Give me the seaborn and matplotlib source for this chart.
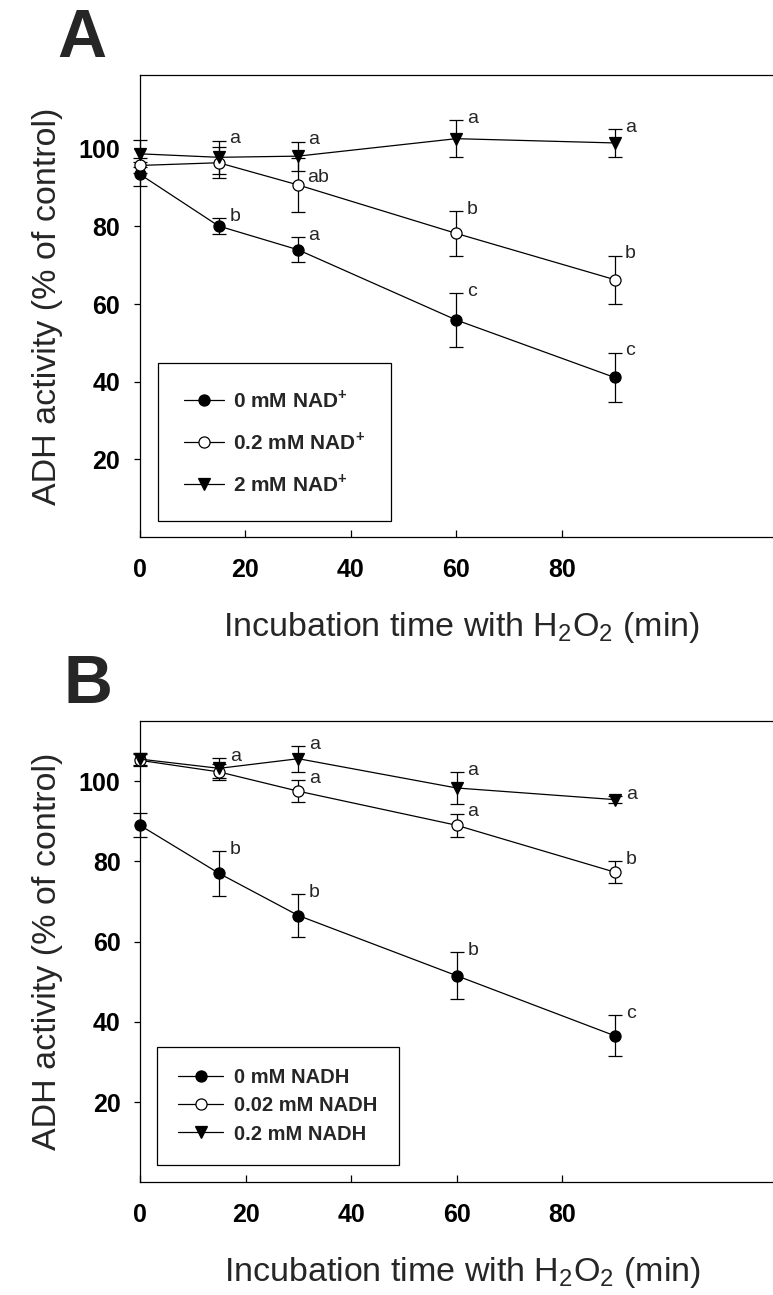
import matplotlib
matplotlib.use('Agg')
import matplotlib.pyplot as plt
import seaborn as sns
import pandas as pd

# incubation time with H2O2 (min)
time = [0, 15, 30, 60, 90]

# panel A: NAD+
a_labels = [r'0 mM NAD$^{\mathbf{+}}$', r'0.2 mM NAD$^{\mathbf{+}}$', r'2 mM NAD$^{\mathbf{+}}$']
a_nad0 = [93.5, 80.1, 74.0, 55.9, 41.1]
a_nad0_se = [3.0, 2.0, 3.2, 6.9, 6.4]
a_nad0_let = ['', 'b', 'a', 'c', 'c']
a_nad02 = [95.7, 96.4, 90.7, 78.2, 66.3]
a_nad02_se = [2.0, 4.0, 7.0, 5.8, 6.2]
a_nad02_let = ['', '', 'ab', 'b', 'b']
a_nad2 = [98.7, 97.8, 98.1, 102.6, 101.5]
a_nad2_se = [3.5, 4.3, 3.7, 4.7, 3.6]
a_nad2_let = ['', 'a', 'a', 'a', 'a']

# panel B: NADH
b_labels = ['0 mM NADH', '0.02 mM NADH', '0.2 mM NADH']
b_nadh0 = [89.0, 77.0, 66.5, 51.5, 36.5]
b_nadh0_se = [3.0, 5.6, 5.3, 5.8, 5.1]
b_nadh0_let = ['', 'b', 'b', 'b', 'c']
b_nadh002 = [105.2, 102.3, 97.5, 89.0, 77.3]
b_nadh002_se = [1.5, 2.0, 2.7, 2.9, 2.7]
b_nadh002_let = ['', '', 'a', 'a', 'b']
b_nadh02 = [105.5, 103.2, 105.6, 98.3, 95.4]
b_nadh02_se = [1.5, 2.5, 3.2, 3.9, 0.8]
b_nadh02_let = ['', 'a', 'a', 'a', 'a']

sns.set_theme(style='ticks')
plt.rcParams['font.family'] = ['Liberation Sans', 'DejaVu Sans']
plt.rcParams['mathtext.fontset'] = 'custom'
plt.rcParams['mathtext.rm'] = 'Liberation Sans'
plt.rcParams['mathtext.bf'] = 'Liberation Sans:bold'

filled = dict(marker='o', markersize=8, markerfacecolor='black', markeredgecolor='black', markeredgewidth=0.9)
hollow = dict(marker='o', markersize=8, markerfacecolor='white', markeredgecolor='black', markeredgewidth=0.9)
tri = dict(marker='v', markersize=9, markerfacecolor='black', markeredgecolor='black', markeredgewidth=0.9)


def draw_panel(ax, series, ymax, leg_anchor, leg_kw, nudge=None):
    nudge = nudge or {}
    for k, (lab, vals, err, lets, st) in enumerate(series):
        df = pd.DataFrame({'time': time, 'activity': vals})
        sns.lineplot(data=df, x='time', y='activity', ax=ax, color='black',
                     linewidth=0.9, label=lab, zorder=3, clip_on=False, **st)
        eb = ax.errorbar(time, vals, yerr=err, fmt='none', ecolor='black',
                         elinewidth=0.9, capsize=5.2, capthick=0.9, zorder=2)
        for art in eb.lines[1] + eb.lines[2]:
            art.set_clip_on(False)
        for i, (t, v, e, l) in enumerate(zip(time, vals, err, lets)):
            if l:
                dx, dy = nudge.get((k, i), (0, 0))
                ax.text(t + 2.0 + dx, v + e - 0.7 + dy, l, fontsize=14, va='baseline', ha='left')
    ax.set_xlim(0, 122)
    ax.set_ylim(0, ymax)
    ax.set_xticks([0, 20, 40, 60, 80])
    ax.set_yticks([20, 40, 60, 80, 100])
    for s in ax.spines.values():
        s.set_linewidth(0.9)
        s.set_color('black')
    ax.tick_params(axis='x', direction='in', length=5, width=0.9, pad=15, labelsize=18, colors='black')
    ax.tick_params(axis='y', direction='out', length=4, width=0.9, pad=10, labelsize=18, colors='black')
    for t in ax.get_xticklabels() + ax.get_yticklabels():
        t.set_fontweight('bold')
    ax.set_xlabel(r'Incubation time with H$_2$O$_2$ (min)', fontsize=24.5)
    ax.xaxis.set_label_coords(0.5, -0.195)
    ax.xaxis.label.set_va('center')
    ax.set_ylabel('ADH activity (% of control)', fontsize=24.5)
    ax.yaxis.set_label_coords(-0.143, 0.5)
    ax.yaxis.label.set_va('center')
    leg = ax.legend(loc='upper left', bbox_to_anchor=leg_anchor, frameon=True, fancybox=False,
                    edgecolor='black', framealpha=1, borderaxespad=0, **leg_kw)
    leg.get_frame().set_linewidth(0.9)


fig = plt.figure(figsize=(7.73, 12.95), dpi=100)
W, H = 773.0, 1295.0
axA = fig.add_axes([139.5 / W, 1 - 537 / H, 644 / W, 462 / H])
axB = fig.add_axes([140 / W, 1 - 1182.3 / H, 644 / W, 461.3 / H])

draw_panel(axA, [
    (a_labels[0], a_nad0, a_nad0_se, a_nad0_let, filled),
    (a_labels[1], a_nad02, a_nad02_se, a_nad02_let, hollow),
    (a_labels[2], a_nad2, a_nad2_se, a_nad2_let, tri),
], 119, (0.0292, 0.376),
    dict(prop={'weight': 'bold', 'size': 15}, handlelength=1.9, handletextpad=0.45,
         labelspacing=0.95, borderpad=1.25),
    nudge={(1, 2): (-0.3, -5.6)})

draw_panel(axB, [
    (b_labels[0], b_nadh0, b_nadh0_se, b_nadh0_let, filled),
    (b_labels[1], b_nadh002, b_nadh002_se, b_nadh002_let, hollow),
    (b_labels[2], b_nadh02, b_nadh02_se, b_nadh02_let, tri),
], 115, (0.0269, 0.2927),
    dict(prop={'weight': 'bold', 'size': 14.5}, handlelength=2.2, handletextpad=0.58,
         labelspacing=0.45, borderpad=1.05))

fig.text(57 / W, 1 - 56.7 / H, 'A', fontsize=49, fontweight='bold', ha='left', va='baseline')
fig.text(63 / W, 1 - 702.7 / H, 'B', fontsize=49, fontweight='bold', ha='left', va='baseline')

fig.savefig('out.png', dpi=100)
